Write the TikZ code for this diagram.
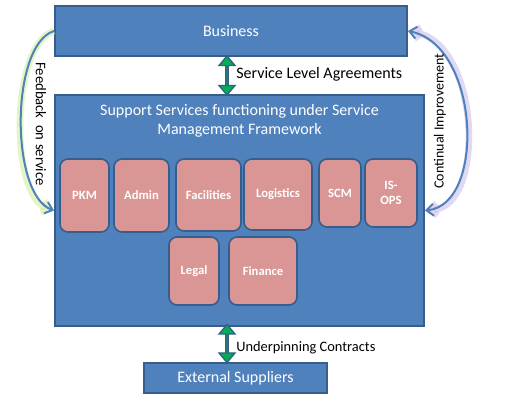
\documentclass[tikz,border=0pt]{standalone}
\usepackage{fontspec}
\setmainfont{Carlito}
\usetikzlibrary{arrows.meta,shapes.arrows}

\definecolor{azul}{HTML}{4F81BD}
\definecolor{borde}{HTML}{385D8A}
\definecolor{rosa}{HTML}{D99694}
\definecolor{verde}{HTML}{00B050}
\definecolor{brilloverde}{HTML}{D2EE9E}
\definecolor{brillolila}{HTML}{CDBFEA}

\begin{document}
\begin{tikzpicture}[x=0.75pt, y=-0.75pt,
    caja/.style={draw=borde, line width=1.5pt, fill=azul, text=white, inner sep=0pt,
        font=\fontsize{12}{14.5}\selectfont},
    area/.style={draw=borde, line width=1.2pt, fill=rosa, rounded corners=6pt, text=white,
        inner sep=0pt, align=center, font=\bfseries\fontsize{9.5}{11.5}\selectfont},
    dobleflecha/.style={double arrow, draw=borde, line width=1pt, fill=verde, rotate=90,
        inner sep=0pt, minimum width=12pt, double arrow head extend=3pt,
        double arrow tip angle=80},
    etiqueta/.style={inner sep=0pt, font=\fontsize{12}{14.5}\selectfont},
    arco/.style={draw=azul, line width=1.5pt},
    punta/.tip={Straight Barb[length=5.25pt, width=9pt]}]

    % Marco del dibujo
    \useasboundingbox (0,0) rectangle (528,400);

    % Cajas principales
    \node (business) [caja, minimum width=264pt, minimum height=37.5pt] at (231,31) {Business};
    \node (support) [caja, minimum width=276.75pt, minimum height=173.25pt] at (239.5,210.5) {};
    \node (external) [caja, minimum width=137.25pt, minimum height=22.5pt] at (235.5,378) {External Suppliers};

    % Titulo del marco de servicios
    \node (titulo) [etiqueta, text=white, align=center] at (239.5,121)
        {Support Services functioning under Service\\Management Framework};

    % Areas de soporte
    \node (pkm) [area, minimum width=36.75pt, minimum height=54.75pt] at (84.5,195.5) {PKM};
    \node (admin) [area, minimum width=41.25pt, minimum height=54.75pt] at (141.5,195.5) {Admin};
    \node (facilities) [area, minimum width=48.75pt, minimum height=54pt] at (208.5,195) {Facilities};
    \node (logistics) [area, minimum width=51pt, minimum height=53.25pt] at (278,194.5) {Logistics};
    \node (scm) [area, minimum width=31.5pt, minimum height=51pt] at (340,193) {SCM};
    \node (isops) [area, minimum width=39pt, minimum height=51pt] at (391,193) {IS-\\OPS};
    \node (legal) [area, minimum width=37.5pt, minimum height=51pt] at (194,271) {Legal};
    \node (finance) [area, minimum width=51pt, minimum height=51pt] at (263,271) {Finance};

    % Flechas de acuerdos y contratos
    \node (sla) [dobleflecha, minimum height=29.25pt] at (227,75.5) {};
    \node (uc) [dobleflecha, minimum height=28.5pt] at (227,343.5) {};
    \node (slatxt) [etiqueta, anchor=west] at (236,74) {Service Level Agreements};
    \node (uctxt) [etiqueta, anchor=west, font=\fontsize{10.8}{13}\selectfont] at (236,348) {Underpinning Contracts};

    % Arcos de retroalimentacion y mejora
    \draw[arco, preaction={draw=brilloverde, line width=5pt, opacity=.6}, -punta]
        (business.west) .. controls (10,45) and (10,195) .. (support.west);
    \draw[arco, preaction={draw=brillolila, line width=5pt, opacity=.6}, punta-punta]
        (business.east) .. controls (480,45) and (486,205) .. (support.east);
    \node (feedback) [etiqueta, rotate=-90, font=\fontsize{11}{13}\selectfont] at (41,124) {Feedback\ \ on service};
    \node (mejora) [etiqueta, rotate=90, font=\fontsize{10.5}{13}\selectfont] at (440,121) {Continual Improvement};
\end{tikzpicture}
\end{document}
